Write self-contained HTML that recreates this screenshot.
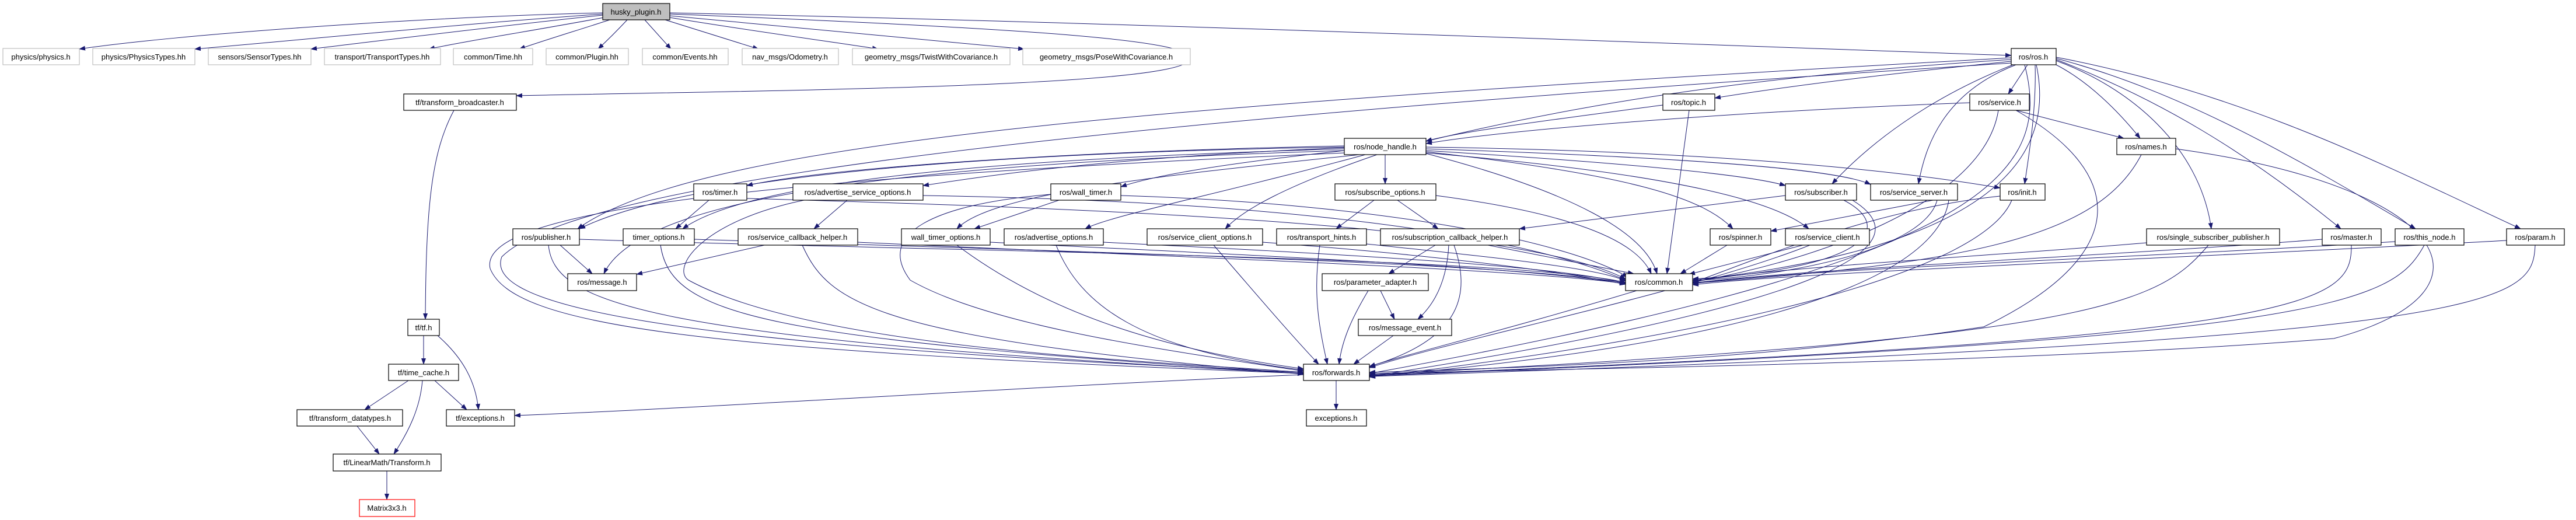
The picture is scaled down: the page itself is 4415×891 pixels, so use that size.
<!DOCTYPE html>
<html><head><meta charset="utf-8"><style>
html,body{margin:0;padding:0;background:#fff;}
svg{display:block;}
text{font-family:"Liberation Sans",sans-serif;font-size:13px;fill:#000;}
.n{fill:#fff;stroke:#000;stroke-width:1.2;}
.g{fill:#fff;stroke:#bfbfbf;stroke-width:1.2;}
.e{fill:none;stroke:#191970;stroke-width:1;marker-end:url(#a);}
</style></head><body>
<svg width="4415" height="891" viewBox="0 0 4415 891" xmlns="http://www.w3.org/2000/svg">
<defs><marker id="a" markerWidth="11" markerHeight="8" refX="10" refY="4" orient="auto" markerUnits="userSpaceOnUse"><path d="M0,0 L11,4 L0,8 z" fill="#191970"/></marker></defs>
<g>
<path class="e" d="M1033,22 C700,30 300,60 136,84"/>
<path class="e" d="M1033,24 C800,40 500,70 334,84"/>
<path class="e" d="M1033,26 C850,45 650,70 533,84"/>
<path class="e" d="M1035,30 C900,55 800,70 735,84"/>
<path class="e" d="M1045,34 C980,55 930,70 890,84"/>
<path class="e" d="M1075,34 C1060,50 1040,70 1025,84"/>
<path class="e" d="M1105,34 L1150,84"/>
<path class="e" d="M1140,34 L1300,84"/>
<path class="e" d="M1148,30 C1300,55 1450,75 1505,84"/>
<path class="e" d="M1148,27 C1400,50 1650,75 1755,84"/>
<path class="e" d="M1148,24 C1800,50 2040,70 2040,100 C2040,150 1300,155 885,164"/>
<path class="e" d="M1148,22 C2000,40 3000,80 3447,95"/>
<path class="e" d="M778,189 C740,260 730,350 729,547"/>
<path class="e" d="M726,575 L726,624"/>
<path class="e" d="M750,575 C790,610 815,650 820,702"/>
<path class="e" d="M700,652 L625,702"/>
<path class="e" d="M724,652 C720,700 700,740 675,778"/>
<path class="e" d="M745,652 L800,702"/>
<path class="e" d="M612,730 L650,778"/>
<path class="e" d="M663,807 L663,856"/>
<path class="e" d="M2234,642 C1800,660 1200,700 882,712"/>
<path class="e" d="M2290,652 L2290,702"/>
<path class="e" d="M3447,102 C3000,130 2700,180 2444,242"/>
<path class="e" d="M3447,105 C3200,130 3050,150 2939,168"/>
<path class="e" d="M3475,111 L3442,161"/>
<path class="e" d="M3450,111 C3300,170 3200,250 3140,315"/>
<path class="e" d="M3455,111 C3330,160 3300,250 3288,315"/>
<path class="e" d="M3488,111 C3490,180 3480,250 3470,315"/>
<path class="e" d="M3524,111 C3580,140 3630,190 3668,237"/>
<path class="e" d="M3524,104 C3650,150 3770,250 3790,392"/>
<path class="e" d="M3524,102 C3700,170 3850,260 4012,392"/>
<path class="e" d="M3524,100 C3750,160 3950,280 4140,392"/>
<path class="e" d="M3524,98 C3850,160 4100,290 4320,392"/>
<path class="e" d="M3447,99 C2000,180 1200,240 990,392"/>
<path class="e" d="M3490,111 C3520,250 3450,420 2901,480"/>
<path class="e" d="M3470,111 C3520,300 3400,450 2347,640"/>
<path class="e" d="M2850,180 C2700,200 2500,225 2444,242"/>
<path class="e" d="M2895,189 L2857,469"/>
<path class="e" d="M3376,176 C3000,190 2600,220 2444,246"/>
<path class="e" d="M3455,189 L3640,237"/>
<path class="e" d="M3425,189 C3400,350 3100,450 2901,483"/>
<path class="e" d="M3455,189 C3650,300 3650,440 3400,560 C3000,620 2600,630 2347,638"/>
<path class="e" d="M3670,265 C3600,400 3400,450 2901,485"/>
<path class="e" d="M3729,255 C4200,320 4300,500 4000,580 C3500,620 2800,630 2347,640"/>
<path class="e" d="M2304,252 C1800,260 1200,290 993,392"/>
<path class="e" d="M2304,255 C1800,270 1300,300 1170,392"/>
<path class="e" d="M2304,258 C1600,280 1100,330 1035,469"/>
<path class="e" d="M2304,250 C1800,260 1400,290 1280,318"/>
<path class="e" d="M2304,253 C1900,270 1700,300 1582,318"/>
<path class="e" d="M2304,258 C2100,280 1980,300 1921,320"/>
<path class="e" d="M2330,265 C2000,300 1700,330 1640,392"/>
<path class="e" d="M2340,265 C2100,330 1900,370 1860,392"/>
<path class="e" d="M2360,265 C2200,320 2130,360 2100,392"/>
<path class="e" d="M2374,265 L2374,315"/>
<path class="e" d="M2444,258 C2800,280 3000,300 3060,318"/>
<path class="e" d="M2444,255 C2900,270 3150,290 3206,316"/>
<path class="e" d="M2444,252 C3000,260 3300,300 3428,322"/>
<path class="e" d="M2444,260 C2800,300 2920,340 2970,392"/>
<path class="e" d="M2444,262 C2900,300 3050,350 3100,392"/>
<path class="e" d="M2444,263 C2700,330 2820,400 2840,469"/>
<path class="e" d="M2304,262 C1200,310 820,370 840,460 C880,560 1200,600 2234,640"/>
<path class="e" d="M3447,108 C2000,200 1000,300 860,440 C830,520 1100,590 2234,638"/>
<path class="e" d="M1215,343 L1158,392"/>
<path class="e" d="M1280,340 C1800,355 2600,380 2786,478"/>
<path class="e" d="M1452,343 L1395,392"/>
<path class="e" d="M1582,335 C2200,345 2600,400 2786,480"/>
<path class="e" d="M1378,343 C1200,380 1150,460 1180,480 C1400,600 2000,620 2234,638"/>
<path class="e" d="M1815,343 L1670,392"/>
<path class="e" d="M1921,335 C2400,350 2700,420 2790,475"/>
<path class="e" d="M1801,333 C1600,350 1500,400 1560,480 C1700,560 2000,600 2234,636"/>
<path class="e" d="M2355,343 L2290,392"/>
<path class="e" d="M2395,343 L2465,392"/>
<path class="e" d="M2461,335 C2650,360 2800,400 2830,469"/>
<path class="e" d="M3060,335 L2604,392"/>
<path class="e" d="M3160,343 C3250,390 3200,460 2901,478"/>
<path class="e" d="M3175,343 C3300,420 3150,520 2347,645"/>
<path class="e" d="M3355,335 L3035,396"/>
<path class="e" d="M3320,343 C3300,420 3100,470 2901,481"/>
<path class="e" d="M3340,343 C3320,480 3000,590 2347,645"/>
<path class="e" d="M3428,336 C3200,360 3000,450 2901,484"/>
<path class="e" d="M3448,343 C3400,460 3000,570 2347,646"/>
<path class="e" d="M960,420 L1015,469"/>
<path class="e" d="M993,410 C1600,430 2600,440 2786,484"/>
<path class="e" d="M940,420 C950,520 1100,580 2234,640"/>
<path class="e" d="M1190,410 C1800,430 2600,450 2786,485"/>
<path class="e" d="M1132,420 C1150,540 1300,580 2234,640"/>
<path class="e" d="M1310,420 L1091,470"/>
<path class="e" d="M1470,415 C2000,440 2600,460 2786,486"/>
<path class="e" d="M1375,420 C1420,520 1500,580 2234,641"/>
<path class="e" d="M1697,415 C2200,440 2650,460 2786,487"/>
<path class="e" d="M1640,420 C1800,540 2000,600 2234,632"/>
<path class="e" d="M1891,415 C2400,440 2700,460 2786,486"/>
<path class="e" d="M1810,420 C1850,520 1950,600 2234,634"/>
<path class="e" d="M2164,415 C2500,440 2700,470 2786,487"/>
<path class="e" d="M2080,420 C2150,500 2200,560 2260,624"/>
<path class="e" d="M2342,418 C2550,440 2750,460 2786,482"/>
<path class="e" d="M2262,420 C2250,500 2260,560 2275,624"/>
<path class="e" d="M2460,420 L2380,469"/>
<path class="e" d="M2483,420 C2480,480 2460,520 2430,547"/>
<path class="e" d="M2492,420 C2520,500 2510,580 2347,628"/>
<path class="e" d="M2550,420 L2800,469"/>
<path class="e" d="M2960,420 L2880,469"/>
<path class="e" d="M3090,420 L2895,470"/>
<path class="e" d="M3102,420 C2900,500 2500,580 2347,630"/>
<path class="e" d="M3679,416 C3400,440 3000,460 2901,484"/>
<path class="e" d="M3785,420 C3700,520 3600,580 2347,642"/>
<path class="e" d="M3980,410 C3600,440 3100,460 2901,485"/>
<path class="e" d="M4030,420 C4030,520 3980,580 2347,643"/>
<path class="e" d="M4105,414 C3700,440 3100,460 2901,486"/>
<path class="e" d="M4155,420 C4100,520 4000,580 2347,644"/>
<path class="e" d="M4296,412 C3800,440 3100,465 2901,488"/>
<path class="e" d="M4345,420 C4340,520 4300,580 2347,645"/>
<path class="e" d="M2366,498 L2390,547"/>
<path class="e" d="M2345,498 C2320,540 2300,580 2295,624"/>
<path class="e" d="M2388,575 L2320,624"/>
<path class="e" d="M2805,498 C2600,560 2400,610 2347,628"/>
</g>
<g>
<rect x="1033" y="6" width="115" height="28" fill="#bfbfbf" stroke="#000" stroke-width="1.2"/><text x="1090" y="25" text-anchor="middle">husky_plugin.h</text>
<rect class="g" x="5" y="83" width="131" height="28"/><text x="70" y="102" text-anchor="middle">physics/physics.h</text>
<rect class="g" x="159" y="83" width="175" height="28"/><text x="246" y="102" text-anchor="middle">physics/PhysicsTypes.hh</text>
<rect class="g" x="357" y="83" width="176" height="28"/><text x="445" y="102" text-anchor="middle">sensors/SensorTypes.hh</text>
<rect class="g" x="556" y="83" width="199" height="28"/><text x="655" y="102" text-anchor="middle">transport/TransportTypes.hh</text>
<rect class="g" x="777" y="83" width="136" height="28"/><text x="845" y="102" text-anchor="middle">common/Time.hh</text>
<rect class="g" x="936" y="83" width="141" height="28"/><text x="1006" y="102" text-anchor="middle">common/Plugin.hh</text>
<rect class="g" x="1101" y="83" width="147" height="28"/><text x="1174" y="102" text-anchor="middle">common/Events.hh</text>
<rect class="g" x="1272" y="83" width="165" height="28"/><text x="1354" y="102" text-anchor="middle">nav_msgs/Odometry.h</text>
<rect class="g" x="1461" y="83" width="270" height="28"/><text x="1596" y="102" text-anchor="middle">geometry_msgs/TwistWithCovariance.h</text>
<rect class="g" x="1753" y="83" width="287" height="28"/><text x="1896" y="102" text-anchor="middle">geometry_msgs/PoseWithCovariance.h</text>
<rect class="n" x="3447" y="83" width="77" height="28"/><text x="3485" y="102" text-anchor="middle">ros/ros.h</text>
<rect class="n" x="692" y="161" width="193" height="28"/><text x="788" y="180" text-anchor="middle">tf/transform_broadcaster.h</text>
<rect class="n" x="2850" y="161" width="89" height="28"/><text x="2894" y="180" text-anchor="middle">ros/topic.h</text>
<rect class="n" x="3376" y="161" width="102" height="28"/><text x="3427" y="180" text-anchor="middle">ros/service.h</text>
<rect class="n" x="2304" y="237" width="140" height="28"/><text x="2374" y="256" text-anchor="middle">ros/node_handle.h</text>
<rect class="n" x="3628" y="237" width="101" height="28"/><text x="3678" y="256" text-anchor="middle">ros/names.h</text>
<rect class="n" x="1189" y="315" width="91" height="28"/><text x="1234" y="334" text-anchor="middle">ros/timer.h</text>
<rect class="n" x="1359" y="315" width="223" height="28"/><text x="1470" y="334" text-anchor="middle">ros/advertise_service_options.h</text>
<rect class="n" x="1801" y="315" width="120" height="28"/><text x="1861" y="334" text-anchor="middle">ros/wall_timer.h</text>
<rect class="n" x="2288" y="315" width="173" height="28"/><text x="2374" y="334" text-anchor="middle">ros/subscribe_options.h</text>
<rect class="n" x="3060" y="315" width="122" height="28"/><text x="3121" y="334" text-anchor="middle">ros/subscriber.h</text>
<rect class="n" x="3206" y="315" width="149" height="28"/><text x="3280" y="334" text-anchor="middle">ros/service_server.h</text>
<rect class="n" x="3428" y="315" width="77" height="28"/><text x="3466" y="334" text-anchor="middle">ros/init.h</text>
<rect class="n" x="879" y="392" width="114" height="28"/><text x="936" y="411" text-anchor="middle">ros/publisher.h</text>
<rect class="n" x="1068" y="392" width="122" height="28"/><text x="1129" y="411" text-anchor="middle">timer_options.h</text>
<rect class="n" x="1265" y="392" width="205" height="28"/><text x="1367" y="411" text-anchor="middle">ros/service_callback_helper.h</text>
<rect class="n" x="1545" y="392" width="152" height="28"/><text x="1621" y="411" text-anchor="middle">wall_timer_options.h</text>
<rect class="n" x="1721" y="392" width="170" height="28"/><text x="1806" y="411" text-anchor="middle">ros/advertise_options.h</text>
<rect class="n" x="1966" y="392" width="198" height="28"/><text x="2065" y="411" text-anchor="middle">ros/service_client_options.h</text>
<rect class="n" x="2188" y="392" width="154" height="28"/><text x="2265" y="411" text-anchor="middle">ros/transport_hints.h</text>
<rect class="n" x="2366" y="392" width="238" height="28"/><text x="2485" y="411" text-anchor="middle">ros/subscription_callback_helper.h</text>
<rect class="n" x="2931" y="392" width="104" height="28"/><text x="2983" y="411" text-anchor="middle">ros/spinner.h</text>
<rect class="n" x="3060" y="392" width="144" height="28"/><text x="3132" y="411" text-anchor="middle">ros/service_client.h</text>
<rect class="n" x="3679" y="392" width="228" height="28"/><text x="3793" y="411" text-anchor="middle">ros/single_subscriber_publisher.h</text>
<rect class="n" x="3980" y="392" width="101" height="28"/><text x="4030" y="411" text-anchor="middle">ros/master.h</text>
<rect class="n" x="4105" y="392" width="118" height="28"/><text x="4164" y="411" text-anchor="middle">ros/this_node.h</text>
<rect class="n" x="4296" y="392" width="99" height="28"/><text x="4345" y="411" text-anchor="middle">ros/param.h</text>
<rect class="n" x="973" y="469" width="118" height="29"/><text x="1032" y="488" text-anchor="middle">ros/message.h</text>
<rect class="n" x="2266" y="469" width="182" height="29"/><text x="2357" y="488" text-anchor="middle">ros/parameter_adapter.h</text>
<rect class="n" x="2786" y="469" width="115" height="29"/><text x="2843" y="488" text-anchor="middle">ros/common.h</text>
<rect class="n" x="699" y="547" width="54" height="28"/><text x="726" y="566" text-anchor="middle">tf/tf.h</text>
<rect class="n" x="2328" y="547" width="160" height="28"/><text x="2408" y="566" text-anchor="middle">ros/message_event.h</text>
<rect class="n" x="666" y="624" width="120" height="28"/><text x="726" y="643" text-anchor="middle">tf/time_cache.h</text>
<rect class="n" x="2234" y="624" width="113" height="28"/><text x="2290" y="643" text-anchor="middle">ros/forwards.h</text>
<rect class="n" x="509" y="702" width="181" height="28"/><text x="600" y="721" text-anchor="middle">tf/transform_datatypes.h</text>
<rect class="n" x="765" y="702" width="117" height="28"/><text x="823" y="721" text-anchor="middle">tf/exceptions.h</text>
<rect class="n" x="2239" y="702" width="103" height="28"/><text x="2290" y="721" text-anchor="middle">exceptions.h</text>
<rect class="n" x="571" y="778" width="185" height="29"/><text x="663" y="797" text-anchor="middle">tf/LinearMath/Transform.h</text>
<rect x="616" y="856" width="95" height="29" fill="#fff" stroke="#ff0000" stroke-width="1.2"/><text x="663" y="875" text-anchor="middle">Matrix3x3.h</text>
</g>
</svg>
</body></html>
